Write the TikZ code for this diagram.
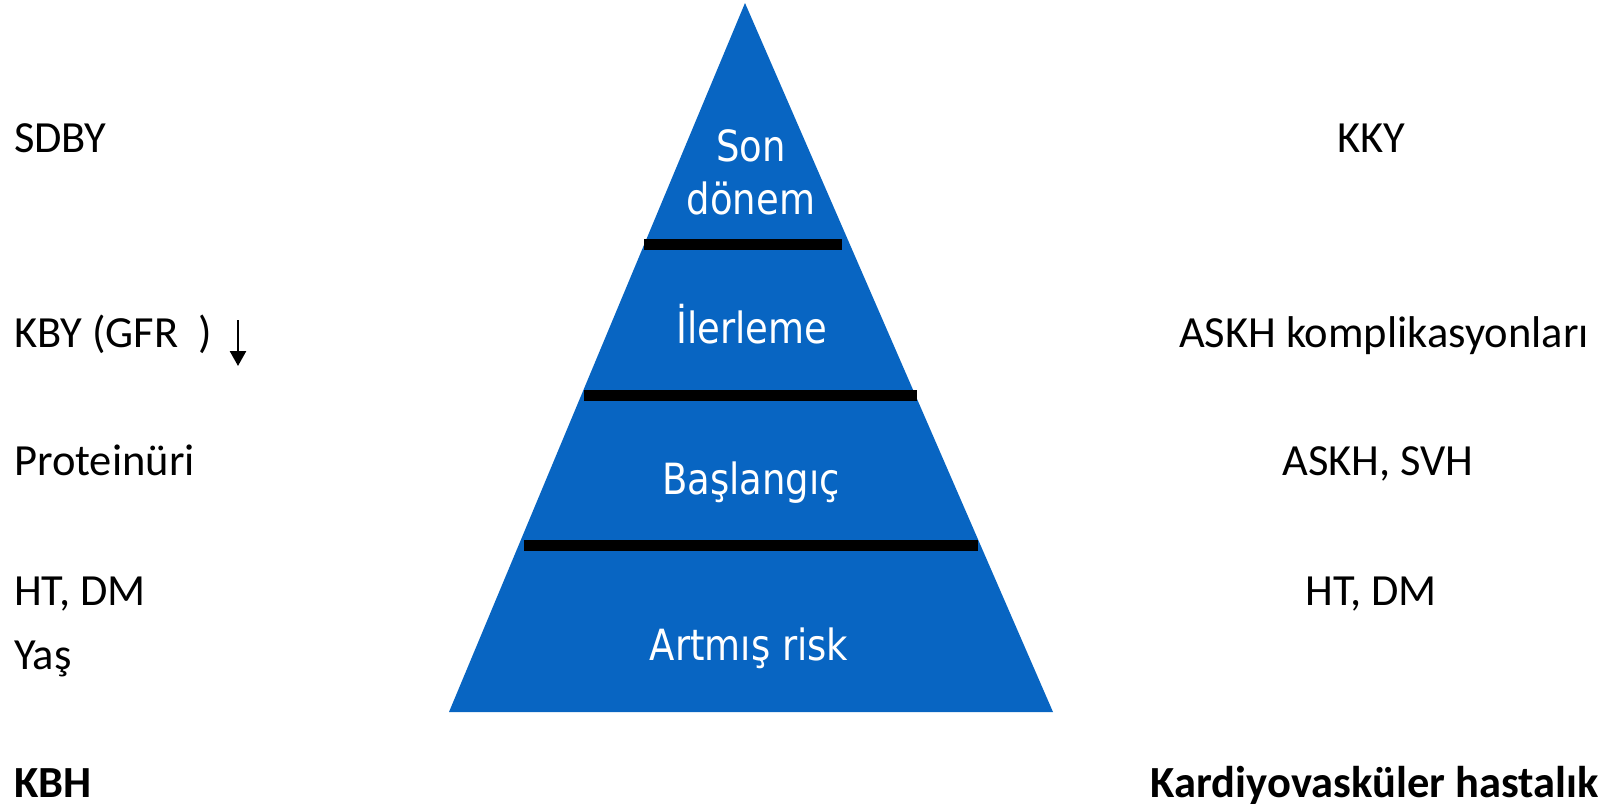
\documentclass[tikz,border=0pt]{standalone}
\usepackage{fontspec}
\setmainfont{Carlito}
\newfontfamily\pyramidfont[FakeStretch=0.86]{DejaVu Sans}
\usetikzlibrary{arrows.meta}
\definecolor{pyramidblue}{RGB}{8,101,194}

\begin{document}
\begin{tikzpicture}[x=1pt, y=-1pt,
    side/.style={font=\fontsize{44.5}{50}\selectfont, inner sep=0},
    sidebold/.style={font=\fontsize{44.5}{50}\selectfont\bfseries, inner sep=0},
    level/.style={font=\pyramidfont\fontsize{43}{50}\selectfont, text=white, inner sep=0},
    bar/.style={line width=11pt}]
    \useasboundingbox (0,0) rectangle (1622,809);

    \coordinate (apex) at (745,3);
    \coordinate (base_right) at (1053,712);
    \coordinate (base_left) at (449,712);
    \fill[pyramidblue] (apex) -- (base_right) -- (base_left) -- cycle;

    \draw[bar] (644,244) -- (842,244);
    \draw[bar] (584,395) -- (917,395);
    \draw[bar] (524,545) -- (978,545);

    \node [level, anchor=base] (son) at (751,161) {Son};
    \node [level, anchor=base] (donem) at (751,214) {dönem};
    \node [level, anchor=base] (ilerleme) at (752,343) {İlerleme};
    \node [level, anchor=base] (baslangic) at (751,494) {Başlangıç};
    \node [level, anchor=base] (artmis) at (749,660) {Artmış risk};

    \node [side, anchor=base west] (sdby) at (14,152) {SDBY};
    \node [side, anchor=base west] (kby) at (14,347) {KBY (GFR\ \ )};
    \node [side, anchor=base west] (proteinuri) at (14,475) {Proteinüri};
    \node [side, anchor=base west] (ht_left) at (14,605) {HT, DM};
    \node [side, anchor=base west] (yas) at (14,669) {Yaş};
    \node [sidebold, anchor=base west] (kbh) at (14,797) {KBH};

    \node [side, anchor=base] (kky) at (1371,152) {KKY};
    \node [side, anchor=base east] (askh_komp) at (1589,347) {ASKH komplikasyonları};
    \node [side, anchor=base] (askh_svh) at (1378,475) {ASKH, SVH};
    \node [side, anchor=base] (ht_right) at (1371,605) {HT, DM};
    \node [sidebold, anchor=base east] (kvh) at (1599,797) {Kardiyovasküler hastalık};

    \coordinate (gfr_top) at (238,320);
    \coordinate (gfr_bottom) at (238,366);
    \draw[-{Triangle[width=16pt,length=15pt]}, line width=2.5pt] (gfr_top) -- (gfr_bottom);
\end{tikzpicture}
\end{document}
